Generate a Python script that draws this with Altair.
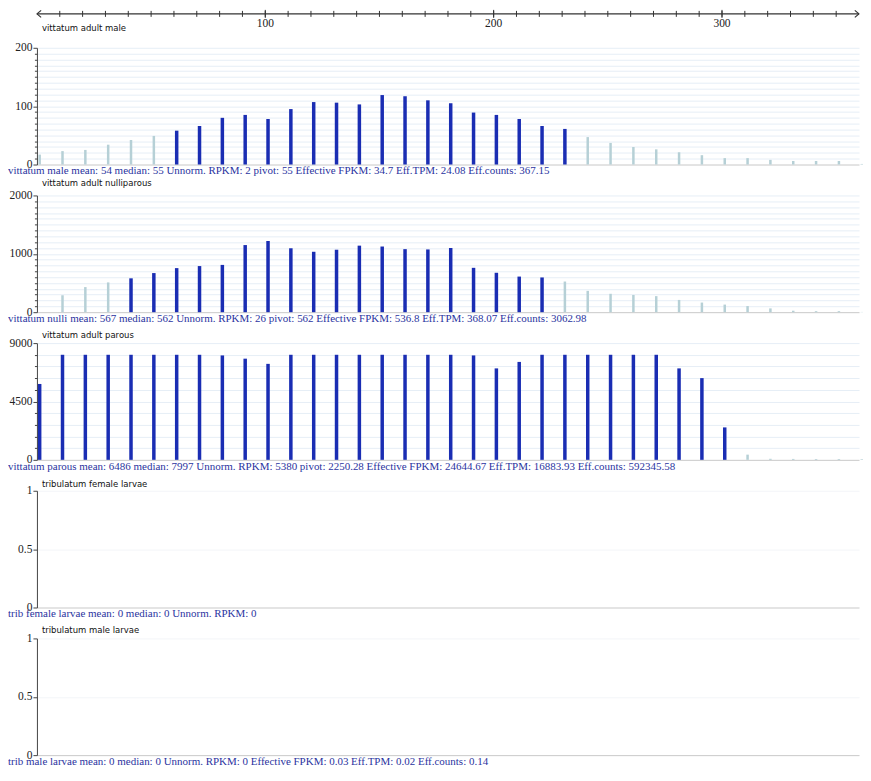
import altair as alt
import pandas as pd

# ---------------- data ----------------
positions = [1.2 + 10 * k for k in range(37)]

male_values = [17, 23, 25, 34, 42, 49, 58, 66, 80, 85, 78, 95, 107, 106, 103, 119, 117, 110,
               105, 89, 85, 78, 66, 61, 47, 37, 30, 26, 21, 16, 11, 11, 8, 6, 6, 6, 1]
nulli_values = [0, 290, 430, 510, 580, 670, 755, 790, 810, 1150, 1220, 1095, 1035, 1070, 1140,
                1125, 1080, 1075, 1100, 760, 675, 610, 595, 525, 365, 315, 295, 275, 210, 165,
                130, 105, 65, 25, 17, 17, 4]
parous_values = [5850, 8100, 8100, 8100, 8100, 8100, 8100, 8100, 8050, 7800, 7400, 8100, 8100,
                 8100, 8100, 8100, 8100, 8100, 8100, 8050, 7050, 7550, 8100, 8100, 8100, 8100,
                 8100, 8100, 7050, 6300, 2500, 400, 80, 70, 60, 60, 50]

male_dark = (6, 23)
nulli_dark = (4, 22)
parous_dark = (0, 30)

titles = ["vittatum adult male", "vittatum adult nulliparous", "vittatum adult parous",
          "tribulatum female larvae", "tribulatum male larvae"]
footers = [
    "vittatum male mean: 54 median: 55 Unnorm. RPKM: 2 pivot: 55 Effective FPKM: 34.7 Eff.TPM: 24.08 Eff.counts: 367.15",
    "vittatum nulli mean: 567 median: 562 Unnorm. RPKM: 26 pivot: 562 Effective FPKM: 536.8 Eff.TPM: 368.07 Eff.counts: 3062.98",
    "vittatum parous mean: 6486 median: 7997 Unnorm. RPKM: 5380 pivot: 2250.28 Effective FPKM: 24644.67 Eff.TPM: 16883.93 Eff.counts: 592345.58",
    "trib female larvae mean: 0 median: 0 Unnorm. RPKM: 0",
    "trib male larvae mean: 0 median: 0 Unnorm. RPKM: 0 Effective FPKM: 0.03 Eff.TPM: 0.02 Eff.counts: 0.14",
]
title_offsets = [-20, -12, -8, -7, -8]

top_minor_ticks = list(range(10, 351, 10))
top_major_ticks = [100, 200, 300]
x_max = 360

# ---------------- style ----------------
W = 824
H = 117
DARK = "#1a2db3"
LIGHT = "#b6d0d6"
GRID = "#e6eef6"
AXIS = "#444444"
SERIF = "Liberation Serif"
SANS = "DejaVu Sans"
FOOT = "#2a33a0"

xscale = alt.Scale(domain=[0, x_max], nice=False, zero=False)


def text_layers(i):
    t = alt.Chart(pd.DataFrame({"t": [titles[i]]})).mark_text(
        align="left", baseline="middle", font=SANS, fontSize=8.5, color="#111"
    ).encode(x=alt.value(5), y=alt.value(title_offsets[i]), text="t:N")
    f = alt.Chart(pd.DataFrame({"t": [footers[i]]})).mark_text(
        align="left", baseline="middle", font=SERIF, fontSize=11, color=FOOT
    ).encode(x=alt.value(-29), y=alt.value(H + 7), text="t:N")
    return [t, f]


def y_axis(vals, major):
    return alt.Axis(
        values=vals,
        labelExpr=f"datum.value % {major} === 0 ? '' + datum.value : ''",
        tickSize={"condition": {"test": f"datum.value % {major} === 0", "value": 4}, "value": 2.5},
        gridColor={"condition": {"test": "datum.value === 0", "value": "#c9c9c9"}, "value": GRID},
        grid=True, title=None, domainColor=AXIS, tickColor=AXIS,
        labelFont=SERIF, labelFontSize=11.5, labelColor="#222", labelPadding=1,
    )


def bar_panel(i, values, dark, ymax, step, major):
    states = ["dark" if dark[0] <= k <= dark[1] else "light" for k in range(len(values))]
    df = pd.DataFrame({"pos": positions, "value": values, "state": states})
    vals = [step * j for j in range(int(round(ymax / step)) + 1)]
    bars = alt.Chart(df).mark_rule().encode(
        x=alt.X("pos:Q", scale=xscale, axis=None),
        y=alt.Y("value:Q", scale=alt.Scale(domain=[0, ymax], nice=False), axis=y_axis(vals, major)),
        y2=alt.datum(0),
        color=alt.Color("state:N", scale=alt.Scale(domain=["dark", "light"], range=[DARK, LIGHT]), legend=None),
        strokeWidth=alt.StrokeWidth("state:N", scale=alt.Scale(domain=["dark", "light"], range=[3.5, 2.5]), legend=None),
    )
    return alt.layer(bars, *text_layers(i)).properties(width=W, height=H)


def empty_panel(i):
    base = alt.Chart(pd.DataFrame({"v": [0]})).mark_rule(opacity=0).encode(
        y=alt.Y("v:Q", scale=alt.Scale(domain=[0, 1], nice=False),
                axis=alt.Axis(values=[0, 0.5, 1], labelExpr="'' + datum.value", tickSize=4, grid=True,
                              gridColor={"condition": {"test": "datum.value === 0", "value": "#c9c9c9"}, "value": "#f3f5f8"},
                              title=None, domainColor=AXIS, tickColor=AXIS,
                              labelFont=SERIF, labelFontSize=11.5, labelColor="#222", labelPadding=1))
    )
    return alt.layer(base, *text_layers(i)).properties(width=W, height=H)


# ---------------- top ruler ----------------
line = alt.Chart(pd.DataFrame({"a": [0], "b": [x_max]})).mark_rule(color="#333", strokeWidth=1.2).encode(
    x=alt.X("a:Q", scale=xscale, axis=None), x2="b:Q", y=alt.value(0))
minor = alt.Chart(pd.DataFrame({"t": top_minor_ticks})).mark_rule(color="#333", strokeWidth=1).encode(
    x=alt.X("t:Q", scale=xscale, axis=None), y=alt.value(-3), y2=alt.value(3))
major = alt.Chart(pd.DataFrame({"t": top_major_ticks})).mark_rule(color="#333", strokeWidth=1).encode(
    x=alt.X("t:Q", scale=xscale, axis=None), y=alt.value(-4), y2=alt.value(4))
labels = alt.Chart(pd.DataFrame({"t": top_major_ticks, "l": [str(v) for v in top_major_ticks]})).mark_text(
    baseline="middle", font=SERIF, fontSize=11.5, color="#222").encode(
    x=alt.X("t:Q", scale=xscale, axis=None), y=alt.value(10), text="l:N")
left_arrow = alt.Chart(pd.DataFrame({"p": [0]})).mark_point(
    shape="M1.2,-1L0,0L1.2,1", filled=False, size=49, strokeWidth=1.2, strokeJoin="round",
    color="#333", opacity=1).encode(
    x=alt.X("p:Q", scale=xscale, axis=None), y=alt.value(0))
right_arrow = alt.Chart(pd.DataFrame({"p": [x_max]})).mark_point(
    shape="M-1.2,-1L0,0L-1.2,1", filled=False, size=49, strokeWidth=1.2, strokeJoin="round",
    color="#333", opacity=1).encode(
    x=alt.X("p:Q", scale=xscale, axis=None), y=alt.value(0))
ruler = alt.layer(line, minor, major, labels, left_arrow, right_arrow).properties(width=W, height=3)

panels = [
    bar_panel(0, male_values, male_dark, 200, 10, 100),
    bar_panel(1, nulli_values, nulli_dark, 2000, 100, 1000),
    bar_panel(2, parous_values, parous_dark, 9000, 900, 4500),
    empty_panel(3),
    empty_panel(4),
]

chart = alt.vconcat(ruler, *panels, spacing=31, bounds="flush").properties(
    padding={"left": 0, "top": 0, "right": 0, "bottom": 0}
).configure_view(stroke=None)

chart.save("out.html", embed_options={"renderer": "svg", "actions": False})
